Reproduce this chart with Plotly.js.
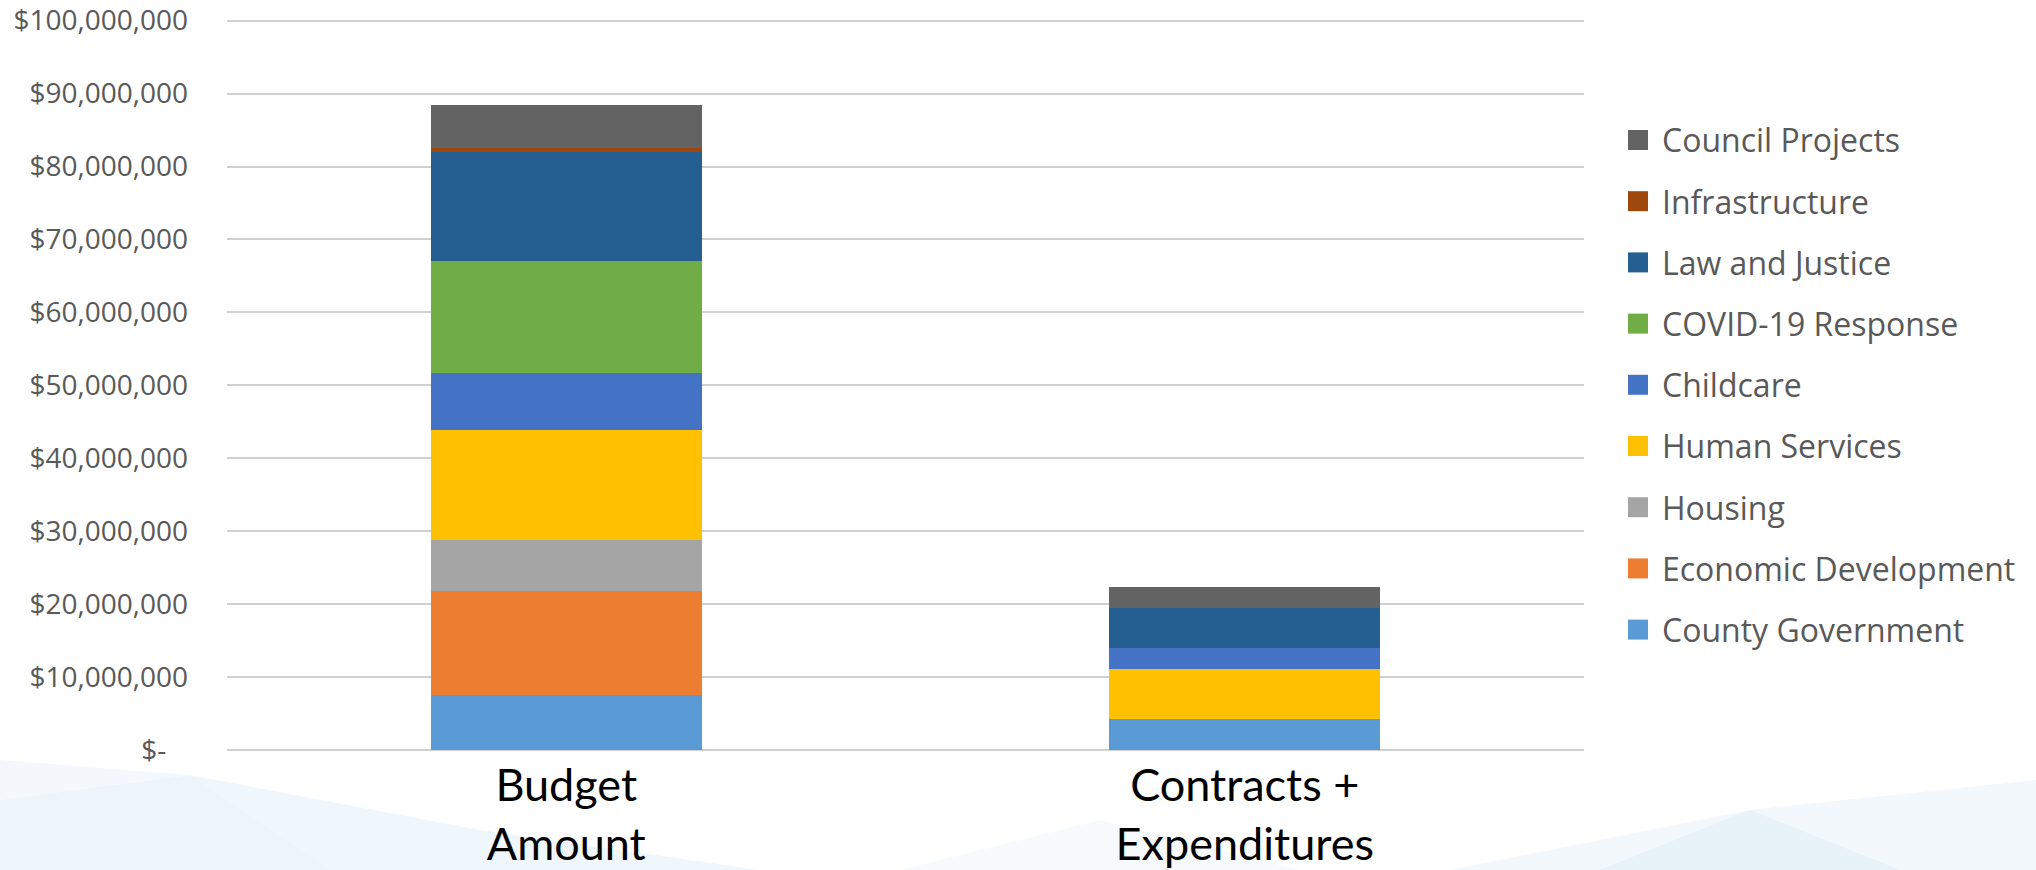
<!DOCTYPE html>
<html>
<head>
<meta charset="utf-8">
<script src="https://cdn.plot.ly/plotly-3.0.1.min.js"></script>
<style>
  html, body { margin: 0; padding: 0; background: #ffffff; }
  #chart { width: 2036px; height: 870px; }
</style>
</head>
<body>
<div id="chart"></div>
<script>
// ---- Data ----
const categories = ['Budget<br>Amount', 'Contracts +<br>Expenditures'];

// Series, stacked bottom -> top
const countyGovernment    = [7560000, 4220000];
const economicDevelopment = [14260000, 0];
const housing             = [6990000, 0];
const humanServices       = [15110000, 6850000];
const childcare           = [7720000, 2930000];
const covid19Response     = [15440000, 0];
const lawAndJustice       = [14920000, 5490000];
const infrastructure      = [570000, 0];
const councilProjects     = [5930000, 2880000];

const seriesNames = ['County Government', 'Economic Development', 'Housing', 'Human Services',
  'Childcare', 'COVID-19 Response', 'Law and Justice', 'Infrastructure', 'Council Projects'];
const seriesValues = [countyGovernment, economicDevelopment, housing, humanServices,
  childcare, covid19Response, lawAndJustice, infrastructure, councilProjects];
const seriesColors = ['#5B9BD5', '#ED7D31', '#A5A5A5', '#FFC000',
  '#4472C4', '#70AD47', '#255E91', '#9E480E', '#636363'];

const yTickValues = [0, 10000000, 20000000, 30000000, 40000000, 50000000,
  60000000, 70000000, 80000000, 90000000, 100000000];
const yTickLabels = ['$-\u00a0\u00a0\u00a0', '$10,000,000', '$20,000,000', '$30,000,000', '$40,000,000',
  '$50,000,000', '$60,000,000', '$70,000,000', '$80,000,000', '$90,000,000', '$100,000,000'];
const yRange = [0, 100500000];

// ---- Layout geometry ----
const W = 2036, H = 870;
const M = { l: 227, r: 452, t: 17, b: 120 };
const plotW = W - M.l - M.r, plotH = H - M.t - M.b;
const px2x = (px) => (px - M.l) / plotW;
const px2y = (py) => (H - M.b - py) / plotH;

const traces = seriesNames.map((name, i) => ({
  type: 'bar',
  name: name,
  x: categories,
  y: seriesValues[i],
  marker: { color: seriesColors[i], line: { width: 0 } },
  showlegend: false,
  hoverinfo: 'skip'
}));

// ---- Custom legend (top item = top of stack) ----
const shapes = [];
const annotations = [];
const legendTop = 140, legendStep = 61.2;
for (let k = 0; k < seriesNames.length; k++) {
  const i = seriesNames.length - 1 - k;
  const cy = legendTop + k * legendStep;
  shapes.push({
    type: 'rect', xref: 'paper', yref: 'paper',
    x0: px2x(1628), x1: px2x(1648), y0: px2y(cy + 10), y1: px2y(cy - 10),
    fillcolor: seriesColors[i], line: { width: 0 }
  });
  annotations.push({
    xref: 'paper', yref: 'paper', x: px2x(1660), y: px2y(cy),
    xanchor: 'left', yanchor: 'middle', showarrow: false,
    text: seriesNames[i],
    font: { family: 'Open Sans, sans-serif', size: 32, color: '#595959' }
  });
}

// ---- Faint background polygons (slide decoration) ----
function poly(points, color) {
  const d = points.map((p, j) => (j ? 'L' : 'M') + px2x(p[0]) + ',' + px2y(p[1])).join(' ') + ' Z';
  return { type: 'path', xref: 'paper', yref: 'paper', path: d, fillcolor: color,
    line: { width: 0 }, layer: 'below' };
}
const bg = [
  poly([[0, 800], [190, 775], [330, 870], [0, 870]], 'rgba(214,232,246,0.45)'),
  poly([[190, 775], [480, 830], [420, 870], [330, 870]], 'rgba(228,240,250,0.55)'),
  poly([[480, 830], [760, 870], [420, 870]], 'rgba(222,237,249,0.45)'),
  poly([[0, 760], [190, 775], [0, 800]], 'rgba(236,244,251,0.6)'),
  poly([[1450, 870], [1750, 810], [2036, 780], [2036, 870]], 'rgba(230,241,250,0.5)'),
  poly([[1750, 810], [1900, 870], [1600, 870]], 'rgba(218,234,247,0.45)'),
  poly([[900, 870], [1100, 820], [1300, 870]], 'rgba(240,246,252,0.5)')
];

const layout = {
  width: W, height: H,
  margin: M,
  barmode: 'stack',
  bargap: 0.6,
  paper_bgcolor: '#ffffff',
  plot_bgcolor: 'rgba(0,0,0,0)',
  showlegend: false,
  xaxis: {
    type: 'category',
    showgrid: false, zeroline: false, showline: false, ticks: '',
    tickfont: { family: 'Lato, sans-serif', size: 45, color: '#000000' },
    ticklabelstandoff: 5
  },
  yaxis: {
    range: yRange,
    tickmode: 'array', tickvals: yTickValues, ticktext: yTickLabels,
    showgrid: true, gridcolor: '#d0d0d0', gridwidth: 2,
    zeroline: true, zerolinecolor: '#d0d0d0', zerolinewidth: 2,
    showline: false, ticks: '',
    tickfont: { family: 'Open Sans, sans-serif', size: 28, color: '#595959' },
    ticklabelstandoff: 38
  },
  shapes: bg.concat(shapes),
  annotations: annotations
};

Plotly.newPlot('chart', traces, layout, { staticPlot: true, displayModeBar: false });
</script>
</body>
</html>
